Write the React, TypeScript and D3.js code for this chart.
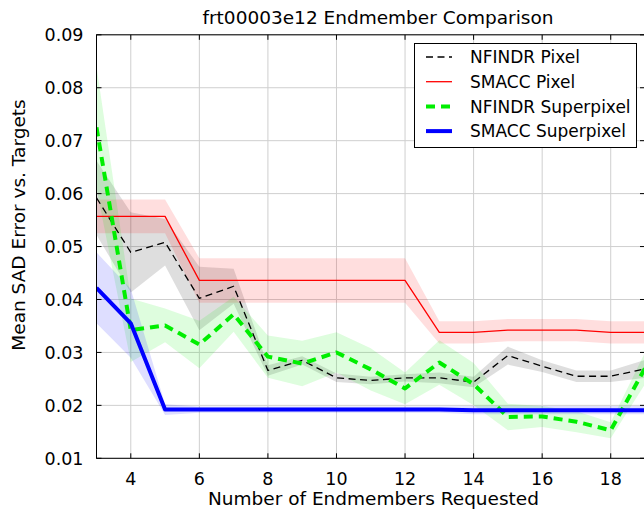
import React from "react";
import { scaleLinear, line, area } from "d3";

const endmembers = [3, 4, 5, 6, 7, 8, 9, 10, 11, 12, 13, 14, 15, 16, 17, 18, 19];

const nfindrPixel = [0.0592, 0.0489, 0.0508, 0.0402, 0.0425, 0.0266, 0.0285, 0.0252, 0.0247, 0.0252, 0.0252, 0.0244, 0.0294, 0.0274, 0.0255, 0.0255, 0.0269];
const nfindrPixelStd = [0.007, 0.0076, 0.0044, 0.006, 0.0033, 0.001, 0.0008, 0.0008, 0.0007, 0.0007, 0.001, 0.001, 0.0017, 0.0011, 0.0011, 0.0011, 0.0017];

const smaccPixel = [0.0557, 0.0557, 0.0557, 0.0436, 0.0436, 0.0436, 0.0436, 0.0436, 0.0436, 0.0436, 0.0338, 0.0338, 0.0342, 0.0342, 0.0342, 0.0338, 0.0338];
const smaccPixelStd = [0.0032, 0.0032, 0.0032, 0.0042, 0.0042, 0.0042, 0.0042, 0.0042, 0.0042, 0.0042, 0.0021, 0.0021, 0.0021, 0.0021, 0.0021, 0.0021, 0.0021];

const nfindrSuper = [0.0725, 0.0342, 0.0351, 0.0315, 0.0372, 0.0292, 0.0279, 0.03, 0.0268, 0.0232, 0.0281, 0.024, 0.0178, 0.0179, 0.0169, 0.0153, 0.027];
const nfindrSuperStd = [0.0115, 0.006, 0.0032, 0.0045, 0.0033, 0.004, 0.0043, 0.0038, 0.004, 0.003, 0.0042, 0.004, 0.0025, 0.002, 0.002, 0.0015, 0.003];

const smaccSuper = [0.0422, 0.0355, 0.0192, 0.0192, 0.0192, 0.0192, 0.0192, 0.0192, 0.0192, 0.0192, 0.0192, 0.0191, 0.0191, 0.0191, 0.0191, 0.0191, 0.0191];
const smaccSuperStd = [0.0067, 0.0065, 0.001, 0.0006, 0.0006, 0.0006, 0.0006, 0.0006, 0.0006, 0.0006, 0.0006, 0.0008, 0.0008, 0.0008, 0.0008, 0.0008, 0.0008];

const xTicks = [4, 6, 8, 10, 12, 14, 16, 18];
const yTicks = [0.01, 0.02, 0.03, 0.04, 0.05, 0.06, 0.07, 0.08, 0.09];

const title = "frt00003e12 Endmember Comparison";
const xLabel = "Number of Endmembers Requested";
const yLabel = "Mean SAD Error vs. Targets";

const font = "'DejaVu Sans', sans-serif";

const series = [
  { name: "NFINDR Pixel", mean: nfindrPixel, std: nfindrPixelStd, color: "#000000", band: "#000000", width: 1.3, dash: "7,4.5" },
  { name: "SMACC Pixel", mean: smaccPixel, std: smaccPixelStd, color: "#ff0000", band: "#ff0000", width: 1.3, dash: "" },
  { name: "NFINDR Superpixel", mean: nfindrSuper, std: nfindrSuperStd, color: "#00ee00", band: "#00ee00", width: 4, dash: "9,6" },
  { name: "SMACC Superpixel", mean: smaccSuper, std: smaccSuperStd, color: "#0000ff", band: "#0000ff", width: 4, dash: "" },
];

export default function App() {
  const W = 644;
  const H = 512;
  const left = 96.5;
  const right = 645;
  const top = 34.8;
  const bottom = 458.3;

  const x = scaleLinear().domain([3, 19]).range([left, right]);
  const y = scaleLinear().domain([0.01, 0.09]).range([bottom, top]);

  const idx = endmembers.map((_, i) => i);

  return (
    <div style={{ position: "absolute", left: 0, top: 0 }}>
      <svg width={W} height={H} style={{ display: "block", background: "#fff" }} fontFamily={font}>
        <defs>
          <clipPath id="plot">
            <rect x={left} y={top} width={right - left} height={bottom - top} />
          </clipPath>
        </defs>
        <rect x={0} y={0} width={W} height={H} fill="#fff" />

        {/* grid */}
        {xTicks.map((t) => (
          <line key={"gx" + t} x1={x(t)} x2={x(t)} y1={top} y2={bottom} stroke="#cfcfcf" strokeWidth={1} />
        ))}
        {yTicks.map((t) => (
          <line key={"gy" + t} x1={left} x2={right} y1={y(t)} y2={y(t)} stroke="#cfcfcf" strokeWidth={1} />
        ))}

        <g clipPath="url(#plot)">
          {series.map((s) => {
            const a = area<number>()
              .x((i) => x(endmembers[i]))
              .y0((i) => y(s.mean[i] - s.std[i]))
              .y1((i) => y(s.mean[i] + s.std[i]));
            return <path key={"b" + s.name} d={a(idx) || ""} fill={s.band} fillOpacity={0.13} stroke="none" />;
          })}
          {series.map((s) => {
            const l = line<number>()
              .x((i) => x(endmembers[i]))
              .y((i) => y(s.mean[i]));
            return (
              <path
                key={"l" + s.name}
                d={l(idx) || ""}
                fill="none"
                stroke={s.color}
                strokeWidth={s.width}
                strokeDasharray={s.dash || undefined}
                strokeLinejoin="round"
              />
            );
          })}
        </g>

        {/* ticks, inward on all sides */}
        {xTicks.map((t) => (
          <g key={"tx" + t}>
            <line x1={x(t)} x2={x(t)} y1={bottom} y2={bottom - 5} stroke="#000" />
            <line x1={x(t)} x2={x(t)} y1={top} y2={top + 5} stroke="#000" />
            <text x={x(t)} y={484.5} textAnchor="middle" fontSize={17.5} fill="#000">
              {t}
            </text>
          </g>
        ))}
        {yTicks.map((t) => (
          <g key={"ty" + t}>
            <line x1={left} x2={left + 5} y1={y(t)} y2={y(t)} stroke="#000" />
            <line x1={right} x2={right - 5} y1={y(t)} y2={y(t)} stroke="#000" />
            <text x={83.5} y={y(t)} dy="0.36em" textAnchor="end" fontSize={17.5} fill="#000">
              {t.toFixed(2)}
            </text>
          </g>
        ))}

        {/* frame */}
        <rect x={left} y={top} width={right - left} height={bottom - top} fill="none" stroke="#000" strokeWidth={1} />

        {/* legend */}
        <g>
          <rect x={414.5} y={43.5} width={222} height={104} fill="#fff" stroke="#000" strokeWidth={1} />
          {series.map((s, i) => {
            const cy = 57 + i * 24.7;
            return (
              <g key={"lg" + s.name}>
                <line
                  x1={426}
                  x2={452}
                  y1={cy}
                  y2={cy}
                  stroke={s.color}
                  strokeWidth={s.width}
                  strokeDasharray={s.dash || undefined}
                />
                <text x={470} y={cy} dy="0.36em" fontSize={17} fill="#000">
                  {s.name}
                </text>
              </g>
            );
          })}
        </g>

        {/* labels */}
        <text x={378} y={24} textAnchor="middle" fontSize={18.5} fill="#000">
          {title}
        </text>
        <text x={373.5} y={505} textAnchor="middle" fontSize={18.5} fill="#000">
          {xLabel}
        </text>
        <text
          transform={`translate(25,225) rotate(-90)`}
          textAnchor="middle"
          fontSize={18.5}
          fill="#000"
        >
          {yLabel}
        </text>
      </svg>
    </div>
  );
}
